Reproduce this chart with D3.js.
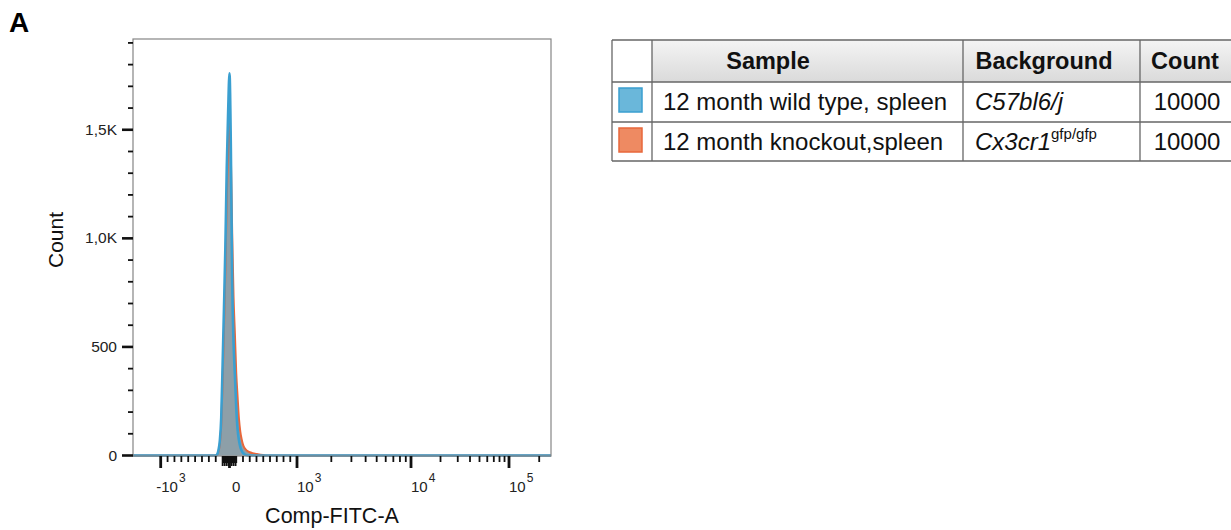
<!DOCTYPE html>
<html lang="en">
<head>
<meta charset="UTF-8">
<title>Comp-FITC-A histogram</title>
<script src="https://cdn.jsdelivr.net/npm/d3@7"></script>
<style>
  body { margin: 0; background: #fff; }
  svg { display: block; font-family: "Liberation Sans", Arial, sans-serif; }
</style>
</head>
<body>
<div id="chart"></div>
<script>
// bin centres (Comp-FITC-A, data units)
const bins = [-200, -180, -160, -140, -120, -100, -80, -60, -40, -20, 0, 20, 40, 60, 80, 100,
  120, 140, 160, 180, 200, 220, 240, 260, 280, 300, 340, 380, 420, 460, 500, 540]
// counts per bin
const wildType = [0, 4, 25, 70, 175, 420, 680, 960, 1320, 1580, 1760, 1420, 800, 520, 370, 220,
  120, 70, 40, 22, 12, 6, 3, 1, 0, 0, 0, 0, 0, 0, 0, 0]
const knockout = [0, 3, 18, 55, 140, 340, 580, 850, 1180, 1420, 1530, 1380, 1020, 730, 560, 380,
  270, 170, 110, 75, 50, 36, 28, 22, 18, 15, 11, 8, 6, 4, 2, 0]

const yMajor = [0, 500, 1000, 1500]
const yLabels = ["0", "500", "1,0K", "1,5K"]
const yMinor = d3.range(100, 2000, 100).filter(v => v % 500 != 0)

const xMajor = [-1000, 0, 1000, 10000, 100000]
const xLabels = [["-10", "3"], ["0", ""], ["10", "3"], ["10", "4"], ["10", "5"]]
const xMinor = [-900, -800, -700, -600, -500, -400, -300, -200, 200, 300, 400, 500, 600, 700, 800, 900,
  2000, 3000, 4000, 5000, 6000, 7000, 8000, 9000,
  20000, 30000, 40000, 50000, 60000, 70000, 80000, 90000, 200000]
const xNearZero = d3.range(-100, 101, 10).filter(v => v != 0)

const samples = ["12 month wild type, spleen", "12 month knockout,spleen"]
const backgrounds = [["C57bl6/j", ""], ["Cx3cr1", "gfp/gfp"]]
const counts = ["10000", "10000"]
const colors = ["#3a9fd0", "#e8673b"]
const swatchFill = ["#6ab7da", "#ee8a62"]

const width = 1231, height = 530
const plot = {left: 133, top: 39, right: 551, bottom: 456}

const svg = d3.select("#chart").append("svg")
  .attr("width", width).attr("height", height)

// biexponential-like display: linear around zero, log above 10^3
const xLin = d3.scaleLinear().domain([-1400, -1000, 0, 1000]).range([plot.left, 160.7, 229.5, 297])
const xLog = d3.scaleLog().domain([1000, 10000, 100000, 262144]).range([297, 411, 509, plot.right])
const x = v => v <= 1000 ? xLin(v) : xLog(v)
const y = d3.scaleLinear().domain([0, 1918]).range([455.5, plot.top])

// histograms
const series = [knockout, wildType]
const seriesColors = [colors[1], colors[0]]
const toPoints = s => [[-1400, 0]].concat(bins.map((b, i) => [b, s[i]]), [[262144, 0]])

const area = d3.area().x(d => x(d[0])).y0(y(0)).y1(d => y(d[1])).curve(d3.curveMonotoneX)
const line = d3.line().x(d => x(d[0])).y(d => y(d[1])).curve(d3.curveMonotoneX)

const g = svg.append("g")
g.selectAll(".fill").data(series).enter().append("path")
  .attr("d", s => area(toPoints(s)))
  .attr("fill", "#8d9fa8")
g.selectAll(".outline").data(series).enter().append("path")
  .attr("d", s => line(toPoints(s)))
  .attr("fill", "none")
  .attr("stroke", (s, i) => seriesColors[i])
  .attr("stroke-width", (s, i) => i == 1 ? 2.6 : 2)
  .attr("stroke-linejoin", "round")

// frame
svg.append("rect")
  .attr("x", plot.left).attr("y", plot.top)
  .attr("width", plot.right - plot.left).attr("height", plot.bottom - plot.top)
  .attr("fill", "none").attr("stroke", "#858585").attr("stroke-width", 1.2)

// y axis
svg.selectAll(".ymin").data(yMinor).enter().append("line")
  .attr("x1", plot.left - 5).attr("x2", plot.left)
  .attr("y1", d => y(d)).attr("y2", d => y(d))
  .attr("stroke", "#111").attr("stroke-width", 1.8)
svg.selectAll(".ymaj").data(yMajor).enter().append("line")
  .attr("x1", plot.left - 11).attr("x2", plot.left)
  .attr("y1", d => y(d)).attr("y2", d => y(d))
  .attr("stroke", "#111").attr("stroke-width", 2.6)
svg.selectAll(".ylab").data(yMajor).enter().append("text")
  .attr("x", 117).attr("y", d => y(d) + 5)
  .attr("text-anchor", "end").attr("font-size", 15.5).attr("fill", "#222")
  .text((d, i) => yLabels[i])

// x axis
const xt = plot.bottom
svg.selectAll(".xmin").data(xMinor).enter().append("line")
  .attr("x1", d => x(d)).attr("x2", d => x(d))
  .attr("y1", xt).attr("y2", xt + 6)
  .attr("stroke", "#111").attr("stroke-width", 1.8)
svg.selectAll(".xzero").data(xNearZero).enter().append("line")
  .attr("x1", d => x(d)).attr("x2", d => x(d))
  .attr("y1", xt).attr("y2", (d, i) => xt + (i % 3 == 0 ? 10 : 7))
  .attr("stroke", "#111").attr("stroke-width", 1.8)
svg.selectAll(".xmaj").data(xMajor).enter().append("line")
  .attr("x1", d => x(d)).attr("x2", d => x(d))
  .attr("y1", xt).attr("y2", xt + 12)
  .attr("stroke", "#111").attr("stroke-width", 2.8)

const xl = svg.selectAll(".xlab").data(xMajor).enter().append("text")
  .attr("x", (d, i) => x(d) + (d < 0 ? -4.5 : d == 0 ? 2.5 : 0))
  .attr("y", 491.5)
  .attr("font-size", 15).attr("fill", "#222")
xl.append("tspan").text((d, i) => xLabels[i][0])
xl.append("tspan").attr("dy", -10).attr("dx", 1).attr("font-size", 12)
  .text((d, i) => xLabels[i][1])

// titles
svg.append("text").attr("x", 332).attr("y", 523).attr("text-anchor", "middle")
  .attr("font-size", 21.5).attr("fill", "#111").text("Comp-FITC-A")
svg.append("text").attr("transform", "translate(63,240) rotate(-90)")
  .attr("text-anchor", "middle").attr("font-size", 21).attr("fill", "#111").text("Count")
svg.append("text").attr("x", 9).attr("y", 32)
  .attr("font-size", 28).attr("font-weight", "bold").attr("fill", "#000").text("A")

// legend table
const cols = [612, 652, 963, 1140, 1240]
const rows = [40, 82, 122, 161]
const grad = svg.append("defs").append("linearGradient").attr("id", "hdr")
  .attr("x1", 0).attr("x2", 0).attr("y1", 0).attr("y2", 1)
grad.append("stop").attr("offset", "0%").attr("stop-color", "#f4f4f4")
grad.append("stop").attr("offset", "100%").attr("stop-color", "#dadada")

const tbl = svg.append("g")
tbl.append("rect").attr("x", cols[1]).attr("y", rows[0])
  .attr("width", cols[4] - cols[1]).attr("height", rows[1] - rows[0])
  .attr("fill", "url(#hdr)")
tbl.selectAll(".hl").data(rows).enter().append("line")
  .attr("x1", cols[0]).attr("x2", cols[4])
  .attr("y1", d => d).attr("y2", d => d)
  .attr("stroke", "#666").attr("stroke-width", 1.3)
tbl.selectAll(".vl").data(cols.slice(0, 4)).enter().append("line")
  .attr("x1", d => d).attr("x2", d => d)
  .attr("y1", rows[0]).attr("y2", rows[3])
  .attr("stroke", "#666").attr("stroke-width", 1.3)

const headers = ["Sample", "Background", "Count"]
const headerX = [768, 1044, 1185]
tbl.selectAll(".hd").data(headers).enter().append("text")
  .attr("x", (d, i) => headerX[i])
  .attr("y", 69).attr("text-anchor", "middle")
  .attr("font-size", 23.5).attr("font-weight", "bold").attr("fill", "#111")
  .text(d => d)

samples.forEach((s, i) => {
  const base = rows[i + 1] + 28
  tbl.append("rect")
    .attr("x", 619).attr("y", rows[i + 1] + 6).attr("width", 23).attr("height", 24)
    .attr("fill", swatchFill[i]).attr("stroke", colors[i]).attr("stroke-width", 1.5)
  tbl.append("text").attr("x", 663).attr("y", base)
    .attr("font-size", 24).attr("fill", "#111").text(s)
  const bg = tbl.append("text").attr("x", 975).attr("y", base)
    .attr("font-size", 24).attr("fill", "#111")
  bg.append("tspan").attr("font-style", "italic").text(backgrounds[i][0])
  bg.append("tspan").attr("dy", -11).attr("font-size", 15).text(backgrounds[i][1])
  tbl.append("text").attr("x", 1187).attr("y", base).attr("text-anchor", "middle")
    .attr("font-size", 24).attr("fill", "#111").text(counts[i])
})
</script>
</body>
</html>
